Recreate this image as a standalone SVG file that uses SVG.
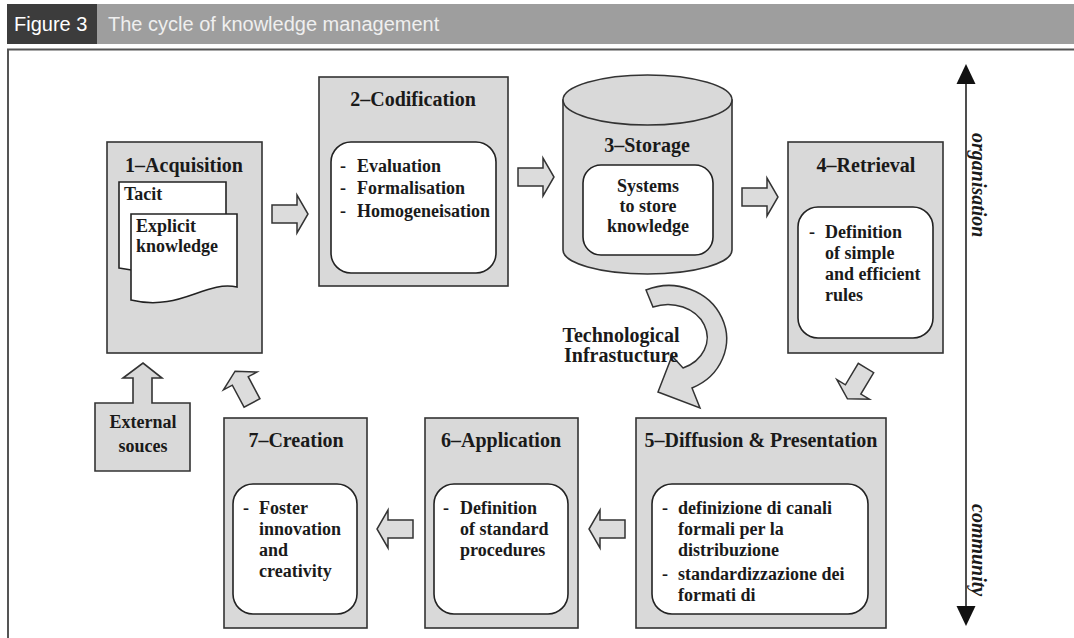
<svg xmlns="http://www.w3.org/2000/svg" xmlns:xlink="http://www.w3.org/1999/xlink" width="1074" height="638" viewBox="0 0 1074 638">
<style>
.box{fill:#d9d9d9;stroke:#333;stroke-width:1.6}
.inner{fill:#fff;stroke:#222;stroke-width:1.6}
.arr{fill:#dcdcdc;stroke:#333;stroke-width:1.5}
.t{font-family:"Liberation Serif","Times New Roman",serif;font-weight:bold;fill:#1a1a1a}
.ti{font-size:20px;text-anchor:middle}
.b{font-size:18px}
.side{font-family:"Liberation Serif",serif;font-style:italic;font-weight:bold;font-size:20px;fill:#1a1a1a}
.hd{font-family:"Liberation Sans",Arial,sans-serif;font-size:20px}
</style>
<defs>
<path id="ba" d="M0,-9 H25 V-19 L36,0 L25,19 V9 H0 Z"/>
</defs>
<rect width="1074" height="638" fill="#fff"/>
<g id="header">
<rect x="7" y="4" width="1067" height="40" fill="#9e9e9e"/>
<rect x="7" y="4" width="90" height="40" fill="#3c3c3c"/>
<text class="hd" x="14" y="31" fill="#fff">Figure 3</text>
<text class="hd" x="108" y="31" fill="#efefef">The cycle of knowledge management</text>
</g>
<g id="frame" stroke="#555" stroke-width="2" fill="none">
<path d="M8,638 V49.5 H1074"/>
</g>
<g id="connectors" class="arr">
<use xlink:href="#ba" transform="translate(272,214)"/>
<use xlink:href="#ba" transform="translate(518,177)"/>
<use xlink:href="#ba" transform="translate(742,197)"/>
<use xlink:href="#ba" transform="translate(866,368) rotate(121)"/>
<use xlink:href="#ba" transform="translate(625,529) rotate(180)"/>
<use xlink:href="#ba" transform="translate(413,529) rotate(180)"/>
<use xlink:href="#ba" transform="translate(252,403) rotate(-118)"/>
<path d="M646,290 A56,52 0 1 1 692,388 L700,408 L658,392 L672,356 L683,368 A38,32 0 1 0 653,307 Z"/>
</g>
<g id="axis">
<line x1="966" y1="82" x2="966" y2="608" stroke="#222" stroke-width="1.6"/>
<polygon points="966,64 956.5,84 975.5,84" fill="#111"/>
<polygon points="966,626 956.5,606 975.5,606" fill="#111"/>
<text class="side" transform="translate(972,133) rotate(90)">organisation</text>
<text class="side" transform="translate(972,504) rotate(90)">community</text>
</g>
<g id="n1">
<rect class="box" x="107" y="142" width="155" height="211"/>
<text class="t ti" x="184" y="172">1–Acquisition</text>
<path class="inner" d="M119,182 H226 V258 C205,255 175,280 119,268 Z"/>
<path class="inner" d="M131,214 H237 V287 C205,280 180,312 131,300 Z"/>
<text class="t b" x="124" y="200">Tacit</text>
<text class="t b" x="136" y="232">Explicit</text>
<text class="t b" x="136" y="252">knowledge</text>
</g>
<g id="n2">
<rect class="box" x="319" y="77" width="189" height="209"/>
<text class="t ti" x="413" y="106">2–Codification</text>
<rect class="inner" x="331" y="142" width="165" height="131" rx="20"/>
<text class="t b" x="340" y="172">-</text><text class="t b" x="357" y="172">Evaluation</text>
<text class="t b" x="340" y="194">-</text><text class="t b" x="357" y="194">Formalisation</text>
<text class="t b" x="340" y="217">-</text><text class="t b" x="357" y="217">Homogeneisation</text>
</g>
<g id="n3">
<path class="box" d="M563,100 V250 A84.5,24 0 0 0 732,250 V100 Z"/>
<ellipse class="box" cx="647.5" cy="100" rx="84.5" ry="25"/>
<text class="t ti" x="647" y="152">3–Storage</text>
<rect class="inner" x="583" y="165" width="130" height="90" rx="18"/>
<text class="t b" x="648" y="192" text-anchor="middle">Systems</text>
<text class="t b" x="648" y="212" text-anchor="middle">to store</text>
<text class="t b" x="648" y="232" text-anchor="middle">knowledge</text>
</g>
<g id="n4">
<rect class="box" x="788" y="142" width="155" height="211"/>
<text class="t ti" x="866" y="172">4–Retrieval</text>
<rect class="inner" x="798" y="207" width="135" height="131" rx="20"/>
<text class="t b" x="809" y="238">-</text><text class="t b" x="825" y="238">Definition</text>
<text class="t b" x="825" y="259">of simple</text>
<text class="t b" x="825" y="280">and efficient</text>
<text class="t b" x="825" y="301">rules</text>
</g>
<g id="n5">
<rect class="box" x="636" y="418" width="250" height="210"/>
<text class="t ti" x="761" y="447">5–Diffusion &amp; Presentation</text>
<rect class="inner" x="652" y="484" width="216" height="130" rx="20"/>
<text class="t b" x="662" y="514">-</text><text class="t b" x="678" y="514">definizione di canali</text>
<text class="t b" x="678" y="535">formali per la</text>
<text class="t b" x="678" y="556">distribuzione</text>
<text class="t b" x="662" y="580">-</text><text class="t b" x="678" y="580">standardizzazione dei</text>
<text class="t b" x="678" y="601">formati di</text>
</g>
<g id="n6">
<rect class="box" x="425" y="418" width="153" height="210"/>
<text class="t ti" x="501" y="447">6–Application</text>
<rect class="inner" x="434" y="484" width="134" height="130" rx="20"/>
<text class="t b" x="443" y="514">-</text><text class="t b" x="460" y="514">Definition</text>
<text class="t b" x="460" y="535">of standard</text>
<text class="t b" x="460" y="556">procedures</text>
</g>
<g id="n7">
<rect class="box" x="224" y="418" width="143" height="210"/>
<text class="t ti" x="296" y="447">7–Creation</text>
<rect class="inner" x="233" y="484" width="124" height="130" rx="20"/>
<text class="t b" x="243" y="514">-</text><text class="t b" x="259" y="514">Foster</text>
<text class="t b" x="259" y="535">innovation</text>
<text class="t b" x="259" y="556">and</text>
<text class="t b" x="259" y="577">creativity</text>
</g>
<g id="ext">
<path class="box" d="M95,403 H133 V378 H123 L143,363 L162,378 H152 V403 H190 V471 H95 Z"/>
<text class="t b" x="143" y="428" text-anchor="middle">External</text>
<text class="t b" x="143" y="452" text-anchor="middle">souces</text>
</g>
<g id="tech">
<text class="t ti" x="621" y="342">Technological</text>
<text class="t ti" x="621" y="362">Infrastucture</text>
</g>
</svg>
